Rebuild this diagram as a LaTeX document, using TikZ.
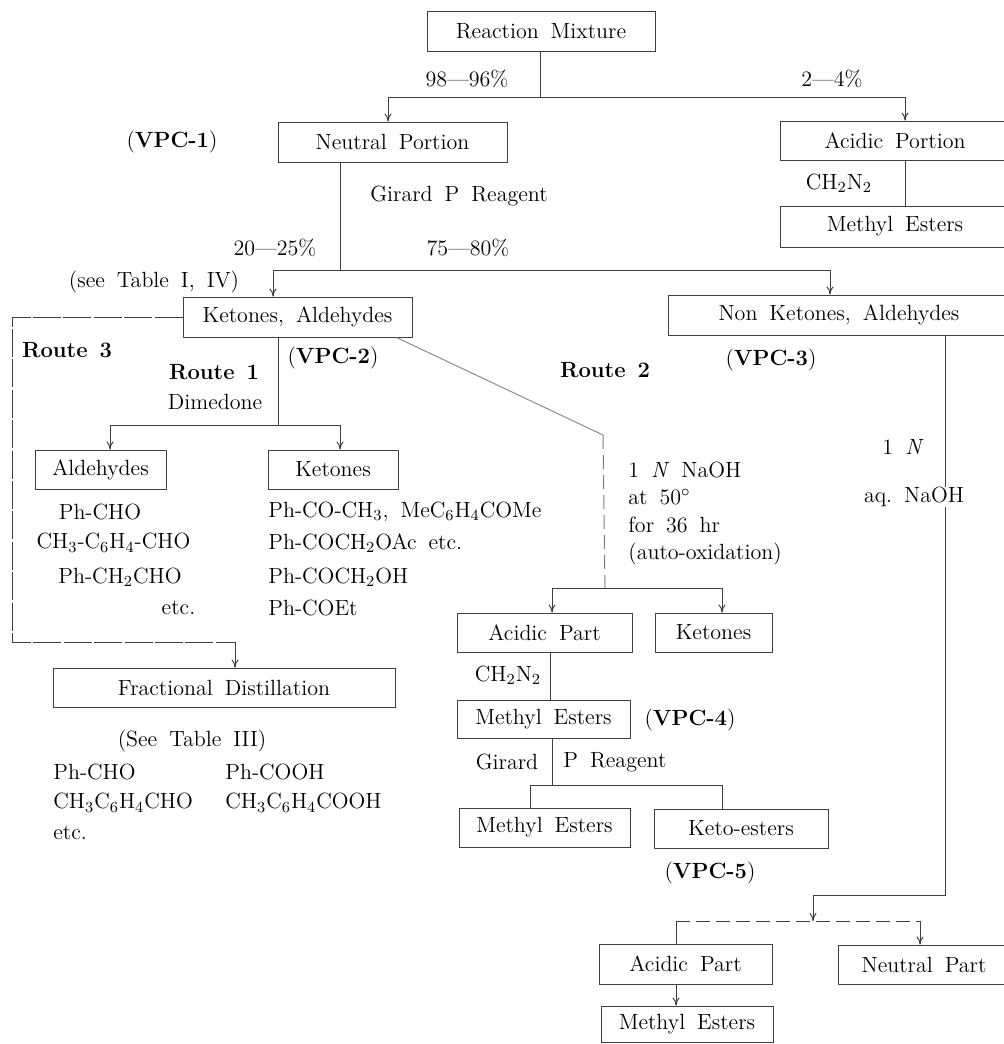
\documentclass[tikz,border=0pt]{standalone}
\usepackage{tikz}
\usetikzlibrary{arrows.meta}
\newcommand{\diagfont}{\fontsize{11}{13.8}\selectfont\spaceskip=6pt plus 1pt\relax}
\tikzstyle{box}=[draw=black!75,line width=0.5pt,inner sep=0pt,minimum height=20pt]
\tikzstyle{lbl}=[inner sep=0pt]
\tikzstyle{link}=[draw=black!75,line width=0.5pt]
\tikzstyle{faint}=[dash pattern=on 14pt off 1.2pt]
\tikzstyle{broken}=[dash pattern=on 7pt off 3pt]

\begin{document}
\begin{tikzpicture}[x=0.5pt,y=-0.5pt,font=\diagfont,>={To[length=4pt,width=3.5pt]}]
\useasboundingbox (0,0) rectangle (1004,1044);
\clip (0,0) rectangle (1004,1044);

% boxes
\node (mix) at (541,31) [box,minimum width=114pt] {Reaction Mixture};
\node (neut) at (392.5,142) [box,minimum width=114.5pt] {Neutral Portion};
\node (acid) at (895,140.5) [box,minimum width=115pt,minimum height=19.5pt] {Acidic Portion};
\node (est1) at (895,226.5) [box,minimum width=115pt,minimum height=20.5pt] {Methyl Esters};
\node (keal) at (297.5,317) [box,minimum width=114.5pt] {Ketones, Aldehydes};
\node (nonk) at (839,315) [box,minimum width=171pt] {Non Ketones, Aldehydes};
\node (ald) at (100.5,469.5) [box,minimum width=65.5pt,minimum height=19.5pt] {Aldehydes};
\node (ket) at (333,469.5) [box,minimum width=65pt,minimum height=19.5pt] {Ketones};
\node (frac) at (224,687.5) [box,minimum width=171pt,minimum height=19.5pt] {Fractional Distillation};
\node (acp) at (544.5,632.5) [box,minimum width=87.5pt,minimum height=19.5pt] {Acidic Part};
\node (ket2) at (713.5,632.5) [box,minimum width=58.5pt,minimum height=19.5pt] {Ketones};
\node (est2) at (543.5,719) [box,minimum width=86.5pt,minimum height=19pt] {Methyl Esters};
\node (est3) at (544.5,827.5) [box,minimum width=85.5pt,minimum height=19.5pt] {Methyl Esters};
\node (kest) at (741,828.5) [box,minimum width=87pt,minimum height=19.5pt] {Keto-esters};
\node (acp2) at (685.5,964) [box,minimum width=86.5pt] {Acidic Part};
\node (est4) at (687,1024) [box,minimum width=86pt,minimum height=18pt] {Methyl Esters};
\node (neu2) at (924,964.5) [box,minimum width=86pt,minimum height=19.5pt] {Neutral Part};

% labels
\node (pc1) at (467,79) [lbl] {98---96\%};
\node (pc2) at (832,79) [lbl] {2---4\%};
\node (v1) at (172,142) [lbl] {(\textbf{VPC-1})};
\node (gir1) at (459,196) [lbl] {Girard P Reagent};
\node (dz1) at (839,183) [lbl] {CH\textsubscript{2}N\textsubscript{2}};
\node (pc3) at (275,248) [lbl] {20---25\%};
\node (pc4) at (468,248) [lbl] {75---80\%};
\node (tab1) at (154,282) [lbl] {(see Table I, IV)};
\node (rt3) at (67,350) [lbl] {\textbf{Route 3}};
\node (rt1) at (214,372) [lbl] {\textbf{Route 1}};
\node (dim) at (215,402) [lbl] {Dimedone};
\node (v2) at (333,358) [lbl] {(\textbf{VPC-2})};
\node (rt2) at (605,370) [lbl] {\textbf{Route 2}};
\node (v3) at (771,360) [lbl] {(\textbf{VPC-3})};
\node (cond) at (628,513.5) [lbl,anchor=west,align=left] {1 \textit{N} NaOH\\at 50$^\circ$\\for 36 hr\\(auto-oxidation)};
\node (n1n) at (903,447) [lbl] {1 \textit{N}};
\node (naq) at (914,497) [lbl] {aq.\ NaOH};

\node (al1) at (100,512) [lbl] {Ph-CHO};
\node (al2) at (113.5,543) [lbl] {CH\textsubscript{3}-C\textsubscript{6}H\textsubscript{4}-CHO};
\node (al3) at (120,577) [lbl] {Ph-CH\textsubscript{2}CHO};
\node (al4) at (178.5,608) [lbl] {etc.};
\node (kt1) at (268,512) [lbl,anchor=west] {Ph-CO-CH\textsubscript{3}, MeC\textsubscript{6}H\textsubscript{4}COMe};
\node (kt2) at (268,543) [lbl,anchor=west] {Ph-COCH\textsubscript{2}OAc etc.};
\node (kt3) at (268,577) [lbl,anchor=west] {Ph-COCH\textsubscript{2}OH};
\node (kt4) at (268,608) [lbl,anchor=west] {Ph-COEt};

\node (tab3) at (192,741) [lbl] {(See Table III)};
\node (fd1) at (53,772) [lbl,anchor=west] {Ph-CHO};
\node (fd2) at (225,772) [lbl,anchor=west] {Ph-COOH};
\node (fd3) at (53,803) [lbl,anchor=west] {CH\textsubscript{3}C\textsubscript{6}H\textsubscript{4}CHO};
\node (fd4) at (225,803) [lbl,anchor=west] {CH\textsubscript{3}C\textsubscript{6}H\textsubscript{4}COOH};
\node (fd5) at (53,833) [lbl,anchor=west] {etc.};

\node (dz2) at (508,675) [lbl] {CH\textsubscript{2}N\textsubscript{2}};
\node (v4) at (690,720) [lbl] {(\textbf{VPC-4})};
\node (gir2) at (507,762) [lbl] {Girard};
\node (gir3) at (563,762) [lbl,anchor=west] {P Reagent};
\node (v5) at (710,873) [lbl] {(\textbf{VPC-5})};

% mixture -> neutral / acidic
\coordinate (m1) at (540,97);
\coordinate (m1l) at (388,97);
\coordinate (m1r) at (905,97);
\draw [link] (mix.south -| m1) -- (m1);
\draw [link] (m1l) -- (m1r);
\draw [link,->] (m1l) -- (neut.north -| m1l);
\draw [link,->] (m1r) -- (acid.north -| m1r);
\draw [link] (acid.south -| m1r) -- (est1.north -| m1r);

% Girard P split
\coordinate (n1) at (340,270);
\coordinate (n1l) at (273,270);
\coordinate (n1r) at (830,270);
\draw [link] (neut.south -| n1) -- (n1);
\draw [link] (n1l) -- (n1r);
\draw [link,->] (n1l) -- (keal.north -| n1l);
\draw [link,->] (n1r) -- (nonk.north -| n1r);

% route 1
\coordinate (k1) at (278,425);
\coordinate (k1l) at (110,425);
\coordinate (k1r) at (340,425);
\draw [link] (keal.south -| k1) -- (k1);
\draw [link] (k1l) -- (k1r);
\draw [link,->] (k1l) -- (ald.north -| k1l);
\draw [link,->] (k1r) -- (ket.north -| k1r);

% route 3
\coordinate (r3a) at (12,317);
\coordinate (r3b) at (12,642);
\coordinate (r3c) at (235,642);
\draw [link,faint] (keal.west) -- (r3a) -- (r3b) -- (r3c);
\draw [link,->] (r3c) -- (frac.north -| r3c);

% route 2
\coordinate (r2a) at (603,435);
\coordinate (r2b) at (605,588);
\coordinate (r2l) at (552,588);
\coordinate (r2r) at (722,588);
\draw [link,black!45] ([xshift=-8pt]keal.south east) -- (r2a);
\draw [link,broken,black!50] (r2a) -- (r2b);
\draw [link] (r2l) -- (r2r);
\draw [link,->] (r2l) -- (acp.north -| r2l);
\draw [link,->] (r2r) -- (ket2.north -| r2r);

% CH2N2, Girard P
\coordinate (e1) at (550,676);
\draw [link] (acp.south -| e1) -- (est2.north -| e1);
\coordinate (g1) at (552,785);
\coordinate (g1l) at (530,785);
\coordinate (g1r) at (722,785);
\draw [link] (est2.south -| g1) -- (g1);
\draw [link] (g1l) -- (g1r);
\draw [link] (g1l) -- (est3.north -| g1l);
\draw [link] (g1r) -- (kest.north -| g1r);

% aq. NaOH
\coordinate (a1) at (945,895);
\coordinate (a2) at (813,921);
\coordinate (a2l) at (676,921);
\coordinate (a2r) at (920,921);
\draw [link] (nonk.south -| a1) -- (naq.north -| a1);
\draw [link,->] (naq.south -| a1) -- (a1) -| (a2);
\draw [link,broken] (a2l) -- (a2r);
\draw [link] (a2l) -- (acp2.north -| a2l);
\draw [link,->] (a2r) -- (neu2.north -| a2r);
\draw [link,->] (acp2.south -| a2l) -- (est4.north -| a2l);
\end{tikzpicture}
\end{document}
